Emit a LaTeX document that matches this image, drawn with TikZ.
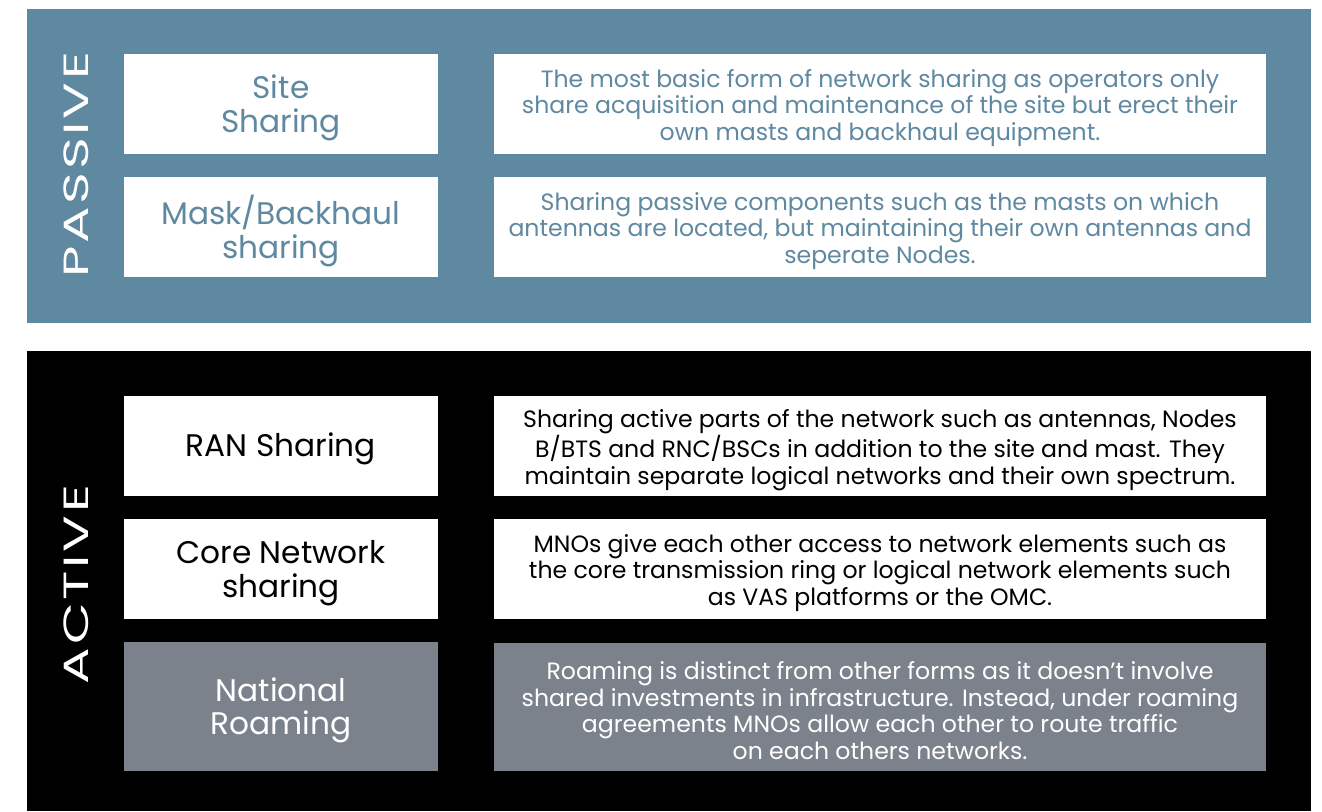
\documentclass[tikz,border=0pt]{standalone}
\usepackage{fontspec}
\setmainfont{Poppins}
\newfontfamily\labfont[LetterSpace=5]{Poppins}
\definecolor{passiveblue}{HTML}{5F89A1}
\definecolor{roamgrey}{HTML}{7C828C}
\tikzset{
  x=1pt, y=-1pt,
  box/.style={draw=none, inner sep=0pt},
  titlebox/.style={box, minimum width=314pt, minimum height=100pt},
  descbox/.style={box, minimum width=772pt, minimum height=100pt},
  titletext/.style={inner sep=0pt, align=center, font=\fontsize{31.2}{33.5}\selectfont},
  desctext/.style={inner sep=0pt, align=center, font=\fontsize{23.6}{26.8}\selectfont},
  sidelabel/.style={rotate=90, font=\labfont\fontsize{35}{35}\selectfont, text=white, inner sep=0pt}
}
\begin{document}
\begin{tikzpicture}
\useasboundingbox[fill=white] (0,0) rectangle (1322,811);
% panels
\fill[passiveblue] (27,9) rectangle (1311,323);
\fill[black] (27,351) rectangle (1311,811);
% passive
\node[sidelabel] (passive) at (76,165) {\scalebox{1.55}[1]{PASSIVE}};
\node[titlebox, fill=white] (site) at (281,104) {};
\node[titletext, text=passiveblue] (sitet) at ([yshift=-4pt]site.center) {Site\\Sharing};
\node[titlebox, fill=white] (mask) at (281,227) {};
\node[titletext, text=passiveblue] (maskt) at ([yshift=-4pt]mask.center) {Mask/Backhaul\\sharing};
\node[descbox, fill=white] (sited) at (880,104) {};
\node[desctext, text=passiveblue] (sitedt) at ([yshift=-4pt]sited.center) {The most basic form of network sharing as operators only\\share acquisition and maintenance of the site but erect their\\own masts and backhaul equipment.};
\node[descbox, fill=white] (maskd) at (880,227) {};
\node[desctext, text=passiveblue] (maskdt) at ([yshift=-4pt]maskd.center) {Sharing passive components such as the masts on which\\antennas are located, but maintaining their own antennas and\\seperate Nodes.};
% active
\node[sidelabel] (active) at (76,584.5) {\scalebox{1.55}[1]{ACTIVE}};
\node[titlebox, fill=white] (ran) at (281,446) {};
\node[titletext, text=black] (rant) at ([yshift=-3pt]ran.center) {RAN Sharing};
\node[titlebox, fill=white] (core) at (281,569) {};
\node[titletext, text=black] (coret) at ([yshift=-4pt]core.center) {Core Network\\sharing};
\node[titlebox, fill=roamgrey, minimum height=129pt] (roam) at (281,706.5) {};
\node[titletext, text=white] (roamt) at ([yshift=-4pt]roam.center) {National\\Roaming};
\node[descbox, fill=white] (rand) at (880,446) {};
\node[desctext, text=black] (randt) at ([yshift=-4pt]rand.center) {Sharing active parts of the network such as antennas, Nodes\\B/BTS and RNC/BSCs in addition to the site and mast. They\\maintain separate logical networks and their own spectrum.};
\node[descbox, fill=white] (cored) at (880,569) {};
\node[desctext, text=black] (coredt) at ([yshift=-4pt]cored.center) {MNOs give each other access to network elements such as\\the core transmission ring or logical network elements such\\as VAS platforms or the OMC.};
\node[descbox, fill=roamgrey, minimum height=128pt] (roamd) at (880,706.5) {};
\node[desctext, text=white] (roamdt) at ([yshift=-4pt]roamd.center) {Roaming is distinct from other forms as it doesn’t involve\\shared investments in infrastructure. Instead, under roaming\\agreements MNOs allow each other to route traffic\\on each others networks.};
\end{tikzpicture}
\end{document}
